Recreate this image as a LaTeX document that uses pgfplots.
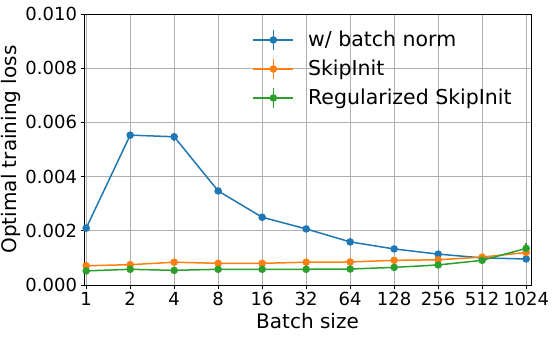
\documentclass[border=0pt]{standalone}
\usepackage{pgfplots}
\pgfplotsset{compat=1.18}
\usepackage{fontspec}
\setmainfont{DejaVu Sans}
\definecolor{C0}{HTML}{1F77B4}
\definecolor{C1}{HTML}{FF7F0E}
\definecolor{C2}{HTML}{2CA02C}
\definecolor{gridgray}{HTML}{B0B0B0}

\begin{document}
\begin{tikzpicture}
% fixed page size, axis box at (0,0)-(447pt,271pt)
\useasboundingbox (-84pt,-52pt) rectangle (469pt,285pt);
\begin{axis}[
  scale only axis,
  width=447pt, height=271pt,
  xmin=-0.05, xmax=10.11,
  ymin=0, ymax=0.010,
  xtick={0,...,10},
  xticklabels={1,2,4,8,16,32,64,128,256,512,1024},
  ytick={0,0.002,0.004,0.006,0.008,0.010},
  scaled y ticks=false,
  yticklabel style={/pgf/number format/.cd, fixed, fixed zerofill, precision=3},
  /pgf/number format/assume math mode=true,
  tick label style={font=\fontsize{18}{20}\selectfont},
  label style={font=\fontsize{20}{22}\selectfont},
  xlabel={Batch size},
  ylabel={Optimal training loss},
  xlabel style={yshift=-1pt},
  ylabel style={yshift=-2pt},
  grid=major,
  grid style={gridgray, line width=0.8pt},
  axis line style={black, line width=0.8pt},
  tick align=outside,
  xtick pos=bottom, ytick pos=left,
  major tick length=3.5pt,
  tick style={black, line width=0.8pt},
  every axis plot/.append style={line width=1.5pt, mark=*, mark size=3pt,
    error bars/y dir=both, error bars/y explicit, error bars/error mark=none,
    error bars/error bar style={line width=1.5pt}},
  legend style={at={(0.37,0.952)}, anchor=north west, draw=none, fill=none,
    font=\fontsize{20.5}{22}\selectfont, row sep=7.5pt,
    legend cell align=left},
  legend image code/.code={
    \draw[#1, mark=none, line width=1.5pt] (0pt,0pt) -- (40pt,0pt);
    \draw[#1, mark=none, line width=1.5pt] (20pt,-10pt) -- (20pt,10pt);
    \fill[#1] (20pt,0pt) circle (3pt);
    \path (52pt,0pt);
  },
]
\addplot[C0, mark options={fill=C0, draw=C0}] coordinates {
  (0,0.00210) +- (0,0.00003)
  (1,0.00553) +- (0,0.00010)
  (2,0.00547) +- (0,0.00015)
  (3,0.00347) +- (0,0.00008)
  (4,0.00250) +- (0,0.00003)
  (5,0.00207) +- (0,0.00003)
  (6,0.00159) +- (0,0.00003)
  (7,0.00133) +- (0,0.00003)
  (8,0.00114) +- (0,0.00003)
  (9,0.00100) +- (0,0.00003)
  (10,0.00096) +- (0,0.00003)
};
\addlegendentry{w/ batch norm}
\addplot[C1, mark options={fill=C1, draw=C1}] coordinates {
  (0,0.00071) +- (0,0.00002)
  (1,0.00075) +- (0,0.00002)
  (2,0.00084) +- (0,0.00002)
  (3,0.00080) +- (0,0.00002)
  (4,0.00080) +- (0,0.00002)
  (5,0.00084) +- (0,0.00002)
  (6,0.00085) +- (0,0.00002)
  (7,0.00091) +- (0,0.00002)
  (8,0.00093) +- (0,0.00002)
  (9,0.00103) +- (0,0.00003)
  (10,0.00120) +- (0,0.00010)
};
\addlegendentry{SkipInit}
\addplot[C2, mark options={fill=C2, draw=C2}] coordinates {
  (0,0.00052) +- (0,0.00002)
  (1,0.00058) +- (0,0.00002)
  (2,0.00054) +- (0,0.00002)
  (3,0.00058) +- (0,0.00002)
  (4,0.00058) +- (0,0.00002)
  (5,0.00058) +- (0,0.00002)
  (6,0.00059) +- (0,0.00002)
  (7,0.00065) +- (0,0.00002)
  (8,0.00074) +- (0,0.00002)
  (9,0.00091) +- (0,0.00003)
  (10,0.00135) +- (0,0.00020)
};
\addlegendentry{Regularized SkipInit}
\end{axis}
\end{tikzpicture}
\end{document}
